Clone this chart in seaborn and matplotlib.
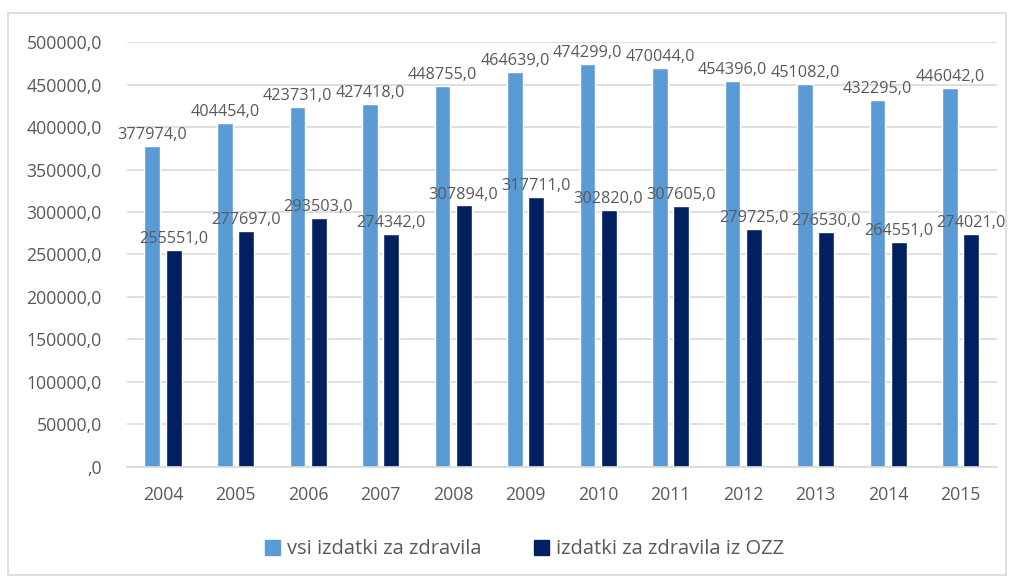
import numpy as np
import pandas as pd
import matplotlib
matplotlib.use("Agg")
import matplotlib.pyplot as plt
import matplotlib.patches as mpatches
from matplotlib.ticker import FuncFormatter
import seaborn as sns

# Data
years = ["2004", "2005", "2006", "2007", "2008", "2009",
         "2010", "2011", "2012", "2013", "2014", "2015"]
vsi_izdatki = [377974, 404454, 423731, 427418, 448755, 464639,
               474299, 470044, 454396, 451082, 432295, 446042]
izdatki_ozz = [255551, 277697, 293503, 274342, 307894, 317711,
               302820, 307605, 279725, 276530, 264551, 274021]
series_names = ["vsi izdatki za zdravila", "izdatki za zdravila iz OZZ"]
colors = ["#5B9BD5", "#002060"]
text_color = "#595959"

df = pd.DataFrame({
    "leto": years * 2,
    "vrednost": vsi_izdatki + izdatki_ozz,
    "serija": [series_names[0]] * len(years) + [series_names[1]] * len(years),
})

sns.set_style("white")
plt.rcParams["font.family"] = ["Open Sans", "DejaVu Sans"]

fig = plt.figure(figsize=(10.14, 5.77), dpi=100)
ax = fig.add_axes([0.125, 0.191, 0.858, 0.736])

sns.barplot(data=df, x="leto", y="vrednost", hue="serija", palette=colors,
            width=0.58, gap=0.24, saturation=1, ax=ax, legend=False)

# data labels over each bar
for cont in ax.containers:
    labels = [f"{v:.1f}".replace(".", ",") for v in cont.datavalues]
    ax.bar_label(cont, labels=labels, padding=2, fontsize=11.7, color=text_color)

def fmt(v, pos):
    if v == 0:
        return ",0"
    return f"{v:.1f}".replace(".", ",")

ax.set_ylim(0, 500000)
ax.set_xlim(-0.5, 11.5)
ax.set_yticks(np.arange(0, 500001, 50000))
ax.yaxis.set_major_formatter(FuncFormatter(fmt))
ax.grid(axis="y", color="#D9D9D9", linewidth=1.2)
ax.set_axisbelow(True)
for s in ["left", "right", "top"]:
    ax.spines[s].set_visible(False)
ax.spines["bottom"].set_color("#D9D9D9")
ax.spines["bottom"].set_linewidth(1.2)
ax.tick_params(axis="both", length=0, labelsize=12.7, colors=text_color)
ax.tick_params(axis="x", pad=14)
ax.tick_params(axis="y", pad=18)
ax.set_xlabel("")
ax.set_ylabel("")

handles = [mpatches.Patch(color=c, label=n) for c, n in zip(colors, series_names)]
fig.legend(handles=handles, loc="center", bbox_to_anchor=(0.517, 0.048), ncol=2,
           frameon=False, fontsize=14.5, labelcolor=text_color,
           handlelength=0.75, handleheight=0.75, handletextpad=0.35, columnspacing=2.6)

# outer chart border
fig.patches.append(mpatches.Rectangle((8 / 1014, 2 / 577), 998 / 1014, 562 / 577,
                                      transform=fig.transFigure, fill=False,
                                      edgecolor="#D9D9D9", linewidth=1.2))

fig.savefig("out.png", dpi=100)
